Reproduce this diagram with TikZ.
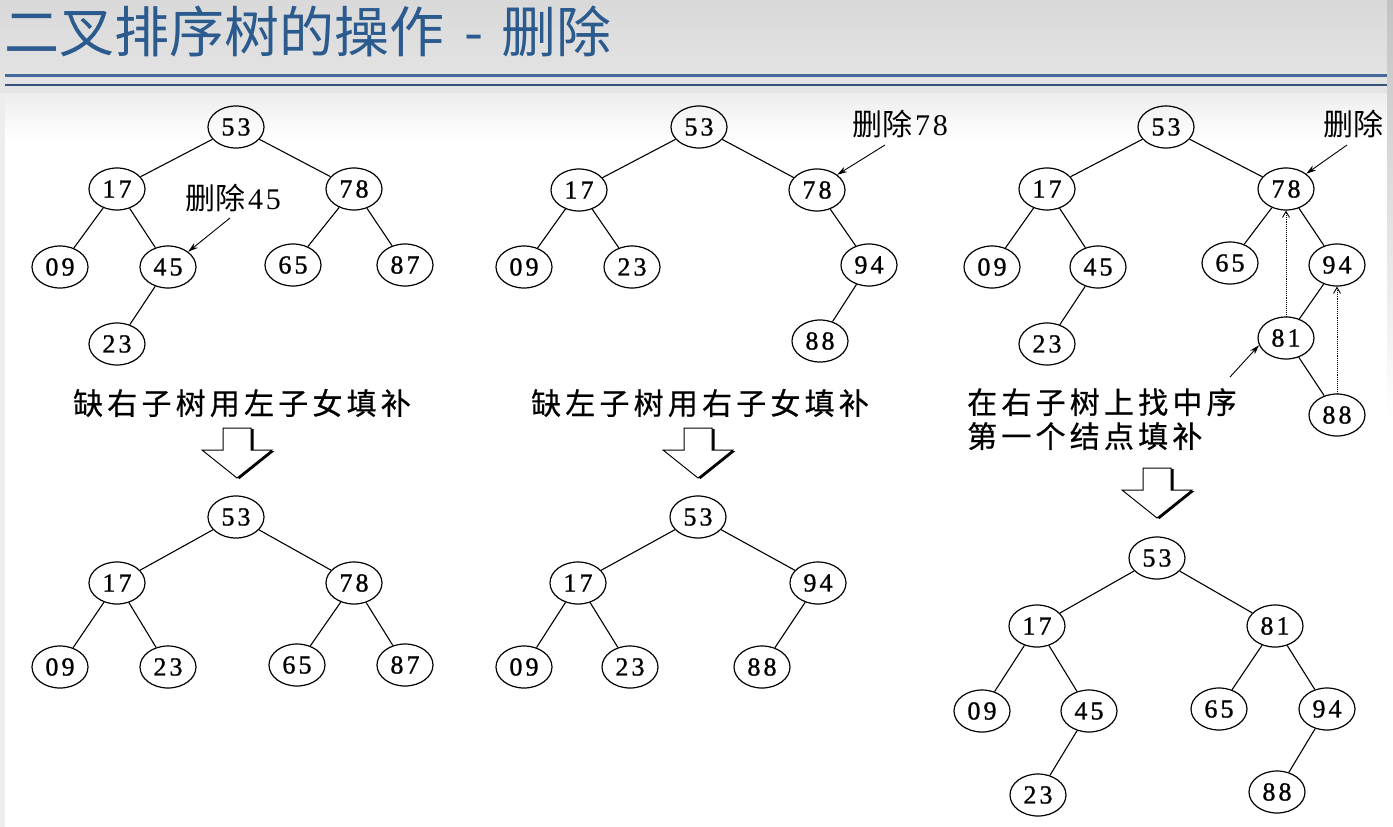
\documentclass[tikz,border=0pt]{standalone}
\usepackage{fontspec}
\newfontfamily\cjk{Noto Sans CJK SC}
\newfontfamily\cjkcap{Noto Sans CJK SC}[LetterSpace=14,FakeBold=0.6]
\newfontfamily\numf{Liberation Serif}[LetterSpace=12,FakeBold=1]
\newfontfamily\lblnum{Liberation Serif}[LetterSpace=10]
\usetikzlibrary{shapes.geometric,arrows.meta}
\definecolor{titleblue}{HTML}{2B5A8E}
\definecolor{ruleblue}{HTML}{44699A}
\tikzset{
  nd/.style={ellipse,draw,line width=1.2pt,minimum width=56pt,minimum height=42pt,
             inner sep=0pt,font=\numf\fontsize{26}{26}\selectfont},
  edge/.style={line width=1.1pt},
  lbl/.style={inner sep=0pt,font=\fontsize{30}{30}\selectfont},
  captext/.style={inner sep=0pt,font=\cjkcap\fontsize{30}{34}\selectfont,align=left},
  ptr/.style={line width=0.9pt,-{Stealth[length=10pt,width=6pt]}},
  dotptr/.style={line width=0.9pt,densely dotted,-{Straight Barb[length=6pt,width=7pt]}},
  hollowdown/.pic={
    \fill[black] (-14+2.5,1) -- (14+2.5,1) -- (14+2.5,23) -- (35+2.5,23) -- (0+2.5,51)
                 -- (-35+2.5,23) -- (-14+2.5,23) -- cycle;
    \draw[fill=white,line width=1pt] (-14,0) -- (14,0) -- (14,22) -- (35,22) -- (0,50)
                 -- (-35,22) -- (-14,22) -- cycle;
  }
}
\begin{document}
\begin{tikzpicture}[x=1pt,y=-1pt]
\useasboundingbox (0,0) rectangle (1393,827);
% page background and header band
\shade[top color=black!15,bottom color=black!10] (0,0) rectangle (1393,93);
\fill[black!7] (0,93) rectangle (5,827);
\fill[white] (5,93) rectangle (1387,827);
\shade[top color=black!7,bottom color=white] (5,93) rectangle (1387,140);
\shade[top color=black!24,bottom color=white] (1387,0) rectangle (1393,420);
\fill[white] (1387,420) rectangle (1393,827);
% title and rules
\node[anchor=base west,inner sep=0pt,text=titleblue,
      font=\cjk\fontsize{55}{55}\selectfont] (title) at (4,52)
      {二叉排序树的操作\hspace{20pt}-\hspace{18pt}删除};
\draw[ruleblue,line width=3pt] (5,75) -- (1387,75);
\draw[ruleblue!80!black,line width=1.6pt] (5,85) -- (1387,85);

% ---------- case 1: node without right subtree ----------
\node[nd] (a53) at (236,127) {53};
\node[nd] (a17) at (117,189) {17};
\node[nd] (a78) at (354,189) {78};
\node[nd] (a09) at (60,267) {09};
\node[nd] (a45) at (168,267) {45};
\node[nd] (a65) at (293,265) {65};
\node[nd] (a87) at (405,265) {87};
\node[nd] (a23) at (117,344) {23};
\draw[edge] (a53) -- (a17) (a53) -- (a78) (a17) -- (a09) (a17) -- (a45)
            (a45) -- (a23) (a78) -- (a65) (a78) -- (a87);
\node[lbl] (la) at (233,198) {{\cjk 删除}\hspace{3pt}{\lblnum 45}};
\coordinate (las) at (230,218);
\draw[ptr] (las) -- (a45.north east);
\node[captext] (capa) at (242,403) {缺右子树用左子女填补};
\pic (arra) at (237,428) {hollowdown};
\node[nd] (b53) at (236,517) {53};
\node[nd] (b17) at (117,583) {17};
\node[nd] (b78) at (354,583) {78};
\node[nd] (b09) at (60,667) {09};
\node[nd] (b23) at (168,667) {23};
\node[nd] (b65) at (297,665) {65};
\node[nd] (b87) at (405,665) {87};
\draw[edge] (b53) -- (b17) (b53) -- (b78) (b17) -- (b09) (b17) -- (b23)
            (b78) -- (b65) (b78) -- (b87);

% ---------- case 2: node without left subtree ----------
\node[nd] (c53) at (699,127) {53};
\node[nd] (c17) at (579,190) {17};
\node[nd] (c78) at (817,190) {78};
\node[nd] (c09) at (524,267) {09};
\node[nd] (c23) at (632,267) {23};
\node[nd] (c94) at (869,265) {94};
\node[nd] (c88) at (820,341) {88};
\draw[edge] (c53) -- (c17) (c53) -- (c78) (c17) -- (c09) (c17) -- (c23)
            (c78) -- (c94) (c94) -- (c88);
\node[lbl] (lc) at (900,124) {{\cjk 删除}\hspace{3pt}{\lblnum 78}};
\coordinate (lcs) at (885,145);
\draw[ptr] (lcs) -- (c78.north east);
\node[captext] (capc) at (700,403) {缺左子树用右子女填补};
\pic (arrc) at (698,428) {hollowdown};
\node[nd] (d53) at (698,517) {53};
\node[nd] (d17) at (578,583) {17};
\node[nd] (d94) at (818,583) {94};
\node[nd] (d09) at (524,667) {09};
\node[nd] (d23) at (630,667) {23};
\node[nd] (d88) at (762,667) {88};
\draw[edge] (d53) -- (d17) (d53) -- (d94) (d17) -- (d09) (d17) -- (d23)
            (d94) -- (d88);

% ---------- case 3: node with two subtrees ----------
\node[nd] (e53) at (1166,127) {53};
\node[nd] (e17) at (1047,189) {17};
\node[nd] (e78) at (1286,189) {78};
\node[nd] (e09) at (992,267) {09};
\node[nd] (e45) at (1098,267) {45};
\node[nd] (e65) at (1230,263) {65};
\node[nd] (e94) at (1337,265) {94};
\node[nd] (e23) at (1047,344) {23};
\node[nd] (e81) at (1286,338) {81};
\node[nd] (e88) at (1337,415) {88};
\draw[edge] (e53) -- (e17) (e53) -- (e78) (e17) -- (e09) (e17) -- (e45)
            (e45) -- (e23) (e78) -- (e65) (e78) -- (e94) (e94) -- (e81) (e81) -- (e88);
\node[lbl,anchor=east] (le) at (1384,124) {\cjk 删除};
\coordinate (les) at (1347,145);
\draw[ptr] (les) -- (e78.north east);
\draw[dotptr] (e81.north) -- (e78.south);
\draw[dotptr] (e88.north) -- (e94.south);
\node[captext,anchor=north west] (cape) at (967,388) {在右子树上找中序\\第一个结点填补};
\coordinate (ces) at (1230,377);
\draw[ptr] (ces) -- (e81.195);
\pic (arre) at (1157,468) {hollowdown};
\node[nd] (f53) at (1157,558) {53};
\node[nd] (f17) at (1037,626) {17};
\node[nd] (f81) at (1275,626) {81};
\node[nd] (f09) at (982,711) {09};
\node[nd] (f45) at (1089,711) {45};
\node[nd] (f65) at (1219,709) {65};
\node[nd] (f94) at (1327,709) {94};
\node[nd] (f23) at (1038,795) {23};
\node[nd] (f88) at (1277,792) {88};
\draw[edge] (f53) -- (f17) (f53) -- (f81) (f17) -- (f09) (f17) -- (f45)
            (f45) -- (f23) (f81) -- (f65) (f81) -- (f94) (f94) -- (f88);
\end{tikzpicture}
\end{document}
